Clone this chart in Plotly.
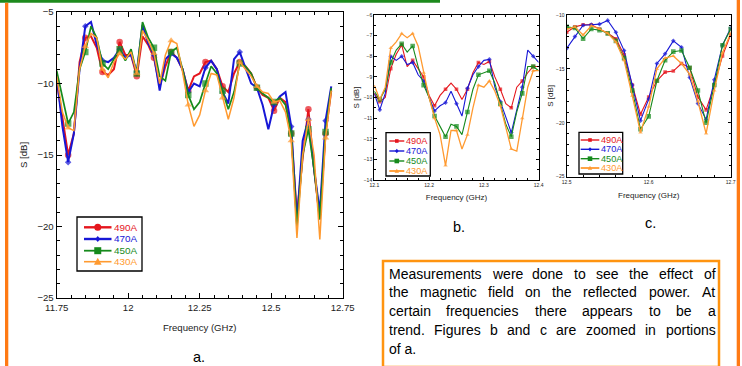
import plotly.graph_objects as go

W, H = 742, 366
FONT = "Liberation Sans, Arial, sans-serif"


def fx(p):
    return p / W


def fy(p):
    return 1 - p / H


# ---------------- data ----------------
series_names = ["490A", "470A", "450A", "430A"]
series_colors = ["#e5161d", "#1717d6", "#168a1c", "#ff9a30"]

# chart a (full band)
freq_a = [11.75, 11.77, 11.79, 11.81, 11.83, 11.85, 11.87, 11.89, 11.91, 11.93,
          11.95, 11.97, 11.99, 12.01, 12.03, 12.05, 12.07, 12.09, 12.11, 12.13,
          12.15, 12.17, 12.19, 12.21, 12.23, 12.25, 12.27, 12.29, 12.31, 12.33,
          12.35, 12.37, 12.39, 12.41, 12.43, 12.45, 12.47, 12.49, 12.51, 12.53,
          12.55, 12.57, 12.59, 12.61, 12.63, 12.65, 12.67, 12.69, 12.71]
s490_a = [-9.8, -12.5, -15.0, -13.5, -8.5, -6.8, -6.7, -7.5, -9.2, -9.4,
          -9.0, -7.1, -8.0, -8.0, -9.5, -6.7, -7.3, -8.2, -10.2, -8.8,
          -7.8, -8.2, -9.0, -10.5, -9.5, -9.3, -8.5, -8.4, -9.0, -10.2,
          -10.6, -9.3, -8.5, -8.8, -9.3, -10.3, -10.8, -11.0, -11.9, -11.0,
          -11.3, -13.5, -19.2, -15.2, -11.8, -16.0, -19.5, -13.5, -10.5]
s470_a = [-9.5, -13.0, -15.5, -13.5, -9.0, -6.0, -5.7, -7.3, -8.4, -8.5,
          -8.2, -7.6, -8.2, -8.0, -9.2, -5.9, -7.2, -8.0, -10.5, -8.3,
          -7.9, -8.2, -9.0, -10.6, -10.0, -10.2, -8.9, -8.4, -9.0, -10.6,
          -11.4, -8.3, -7.8, -8.9, -10.0, -10.3, -11.5, -13.2, -11.5, -10.9,
          -10.6, -13.0, -19.7, -14.0, -12.5, -16.0, -19.0, -12.6, -10.2]
s450_a = [-9.1, -11.0, -12.8, -12.0, -9.0, -7.8, -6.0, -6.8, -8.6, -9.0,
          -8.3, -7.6, -8.4, -7.6, -9.3, -5.7, -6.8, -7.5, -9.5, -9.8,
          -7.8, -7.5, -9.0, -10.8, -11.8, -11.3, -10.0, -8.8, -9.3, -10.5,
          -11.8, -10.6, -8.6, -8.8, -9.3, -10.3, -10.7, -11.0, -11.3, -11.0,
          -11.5, -13.5, -20.0, -15.0, -13.2, -16.0, -19.5, -13.4, -10.3]
s430_a = [-9.5, -12.0, -13.1, -13.3, -9.0, -7.4, -6.5, -6.8, -9.0, -9.6,
          -8.5, -7.9, -8.3, -7.8, -9.3, -6.3, -7.0, -7.9, -10.0, -8.0,
          -7.0, -7.2, -9.2, -11.5, -13.0, -12.2, -10.5, -9.3, -9.4, -11.0,
          -12.5, -11.0, -8.5, -9.0, -9.5, -10.2, -10.6, -10.7, -11.3, -11.2,
          -12.0, -14.0, -20.8, -15.0, -12.5, -15.0, -20.9, -13.8, -10.5]

# chart b (12.1 - 12.4 GHz)
freq_b = [12.10, 12.11, 12.12, 12.13, 12.14, 12.15, 12.16, 12.17, 12.18, 12.19,
          12.20, 12.21, 12.22, 12.23, 12.24, 12.25, 12.26, 12.27, 12.28, 12.29,
          12.30, 12.31, 12.32, 12.33, 12.34, 12.35, 12.36, 12.37, 12.38, 12.39,
          12.40]
s490_b = [-9.8, -10.2, -10.0, -8.6, -7.9, -7.45, -8.5, -8.2, -8.6, -9.0,
          -9.9, -10.4, -9.9, -9.6, -9.3, -9.6, -10.1, -9.6, -8.8, -8.3,
          -8.4, -8.25, -9.0, -9.6, -10.3, -10.5, -9.5, -9.2, -8.8, -8.5,
          -8.5]
s470_b = [-9.8, -10.6, -9.8, -8.0, -8.2, -8.0, -8.4, -8.3, -8.9, -9.2,
          -10.0, -10.65, -10.4, -10.25, -9.7, -10.3, -10.9, -9.55, -8.9, -8.5,
          -8.2, -8.15, -9.5, -10.2, -11.0, -11.7, -10.6, -9.5, -7.7, -8.0,
          -8.3]
s450_b = [-9.7, -10.1, -9.6, -8.3, -7.7, -7.4, -7.8, -7.5, -8.5, -9.4,
          -10.0, -10.9, -11.4, -11.9, -11.3, -11.4, -11.8, -10.7, -9.6, -8.9,
          -8.8, -8.7, -9.3, -10.3, -11.3, -11.9, -10.7, -9.8, -8.5, -8.5,
          -8.7]
s430_b = [-9.4, -10.1, -9.5, -7.6, -7.3, -6.9, -7.1, -6.9, -7.5, -8.8,
          -10.0, -11.0, -11.8, -13.3, -11.6, -11.6, -12.5, -11.8, -10.5, -9.4,
          -9.5, -9.2, -9.7, -10.4, -11.5, -12.5, -12.6, -11.0, -9.5, -8.7,
          -8.7]

# chart c (12.5 - 12.7 GHz)
freq_c = [12.50, 12.51, 12.52, 12.53, 12.54, 12.55, 12.56, 12.57, 12.58, 12.59,
          12.60, 12.61, 12.62, 12.63, 12.64, 12.65, 12.66, 12.67, 12.68, 12.69,
          12.70]
s490_c = [-11.6, -11.1, -10.9, -10.9, -11.3, -11.7, -12.2, -13.7, -16.5, -19.2,
          -17.6, -16.1, -15.3, -15.2, -14.5, -14.9, -17.6, -18.8, -16.5, -13.8,
          -11.8]
s470_c = [-13.1, -12.0, -10.95, -10.9, -10.85, -10.5, -11.6, -13.3, -16.5, -19.8,
          -17.8, -14.5, -13.6, -12.4, -13.0, -15.8, -18.2, -19.7, -16.0, -12.8,
          -11.2]
s450_c = [-11.1, -11.2, -12.2, -11.3, -11.4, -11.7, -12.4, -14.0, -17.0, -20.6,
          -19.4, -16.1, -14.2, -13.4, -13.3, -14.9, -17.0, -20.0, -16.5, -12.8,
          -11.3]
s430_c = [-11.3, -11.1, -11.85, -11.0, -11.3, -11.7, -12.5, -14.2, -17.5, -20.9,
          -18.5, -15.0, -14.0, -13.8, -14.5, -15.5, -18.0, -21.0, -17.0, -13.5,
          -11.7]

xticks_a = [11.75, 12.0, 12.25, 12.5, 12.75]
xticklabels_a = ["11.75", "12", "12.25", "12.5", "12.75"]
xticks_b = [12.1, 12.2, 12.3, 12.4]
xticklabels_b = ["12.1", "12.2", "12.3", "12.4"]
xticks_c = [12.5, 12.6, 12.7]
xticklabels_c = ["12.5", "12.6", "12.7"]

# ---------------- styles ----------------
sym_a = ["circle", "diamond", "square", "triangle-up"]
msz_a = [6.5, 5, 6.5, 6.5]
lw_a = [2.0, 2.0, 1.7, 1.5]
sym_bc = ["square", "diamond", "square", "triangle-up"]
msz_bc = [3.6, 3.6, 4.6, 4.0]
lw_bc = [1.1, 1.1, 1.1, 1.3]

fig = go.Figure()

sets = [
    (freq_a, [s490_a, s470_a, s450_a, s430_a], "x", "y", sym_a, msz_a, lw_a, 3, 2),
    (freq_b, [s490_b, s470_b, s450_b, s430_b], "x2", "y2", sym_bc, msz_bc, lw_bc, 2, 1),
    (freq_c, [s490_c, s470_c, s450_c, s430_c], "x3", "y3", sym_bc, msz_bc, lw_bc, 1, 0),
]
for freq, ys_list, xa, ya, syms, mszs, lws, every, offs in sets:
    for name, ys, col, sym, ms, lw in zip(series_names, ys_list, series_colors, syms, mszs, lws):
        sizes = [ms if (i % every) == offs else 0 for i in range(len(freq))]
        fig.add_trace(go.Scatter(
            x=freq, y=ys, mode="lines+markers", name=name, showlegend=False,
            xaxis=xa, yaxis=ya,
            line=dict(color=col, width=lw),
            marker=dict(symbol=sym, size=sizes, color=col, line=dict(width=0)),
        ))


def axis(domain, rng, fs, title, tfs, standoff, minor_dtick, minor_len, major_len, **kw):
    d = dict(domain=domain, range=rng, showline=True, linecolor="black", linewidth=1.2,
             mirror="allticks", ticks="inside", ticklen=major_len, tickcolor="black",
             tickwidth=1, showgrid=False, zeroline=False, automargin=False,
             tickfont=dict(family=FONT, size=fs, color="#222"),
             title=dict(text=title, font=dict(family=FONT, size=tfs, color="#222"),
                        standoff=standoff),
             minor=dict(ticks="inside", ticklen=minor_len, dtick=minor_dtick,
                        tickcolor="black", tickwidth=1, showgrid=False))
    d.update(kw)
    return d


fig.update_layout(
    width=W, height=H, margin=dict(l=0, r=0, t=0, b=0),
    paper_bgcolor="white", plot_bgcolor="white", showlegend=False,
    xaxis=axis([fx(56.7), fx(342.7)], [11.75, 12.75], 9.6, "Frequency (GHz)", 9.6, 12,
               0.05, 3, 5, tickvals=xticks_a, ticktext=xticklabels_a, anchor="y"),
    yaxis=axis([fy(298), fy(12)], [-25, -5], 9.6, "S [dB]", 9.6, 8,
               1, 3, 5, dtick=5, tick0=-25, anchor="x"),
    xaxis2=axis([fx(374.3), fx(538.7)], [12.1, 12.4], 5, "Frequency (GHz)", 8, 7,
                0.02, 2, 3, tickvals=xticks_b, ticktext=xticklabels_b, anchor="y2"),
    yaxis2=axis([fy(180), fy(15)], [-14, -6], 5, "S [dB]", 8, 2,
                0.5, 2, 3, dtick=1, tick0=-14, anchor="x2"),
    xaxis3=axis([fx(566.7), fx(730.7)], [12.5, 12.7], 5, "Frequency (GHz)", 8, 8,
                0.02, 2, 3, tickvals=xticks_c, ticktext=xticklabels_c, anchor="y3"),
    yaxis3=axis([fy(176.7), fy(15)], [-25, -10], 5, "S [dB]", 8, 1,
                1, 2, 3, dtick=5, tick0=-25, anchor="x3"),
)

shapes = []
annotations = []

# ---------------- frame decorations ----------------
shapes.append(dict(type="rect", xref="paper", yref="paper", x0=fx(0), x1=fx(440),
                   y0=fy(2.8), y1=fy(0), line=dict(width=0), fillcolor="#1d8a1d", layer="above"))
shapes.append(dict(type="rect", xref="paper", yref="paper", x0=fx(5), x1=fx(8.3),
                   y0=fy(366), y1=fy(2.8), line=dict(width=0), fillcolor="#ff7a14", layer="above"))
shapes.append(dict(type="rect", xref="paper", yref="paper", x0=fx(736.7), x1=fx(740),
                   y0=fy(366), y1=fy(0), line=dict(width=0), fillcolor="#ff7a14", layer="above"))
# text box
shapes.append(dict(type="rect", xref="paper", yref="paper", x0=fx(383), x1=fx(719),
                   y0=fy(367), y1=fy(261), line=dict(width=2.5, color="#ff9410"),
                   fillcolor="white", layer="above"))


# ---------------- legends ----------------
def marker_shape(sym, cx, cy, size, col):
    r = size / 2
    if sym == "circle":
        return dict(type="circle", xref="paper", yref="paper", x0=fx(cx - r), x1=fx(cx + r),
                    y0=fy(cy + r), y1=fy(cy - r), fillcolor=col, line=dict(width=0), layer="above")
    if sym == "square":
        return dict(type="rect", xref="paper", yref="paper", x0=fx(cx - r), x1=fx(cx + r),
                    y0=fy(cy + r), y1=fy(cy - r), fillcolor=col, line=dict(width=0), layer="above")
    if sym == "diamond":
        pts = [(cx, cy - r * 1.2), (cx + r, cy), (cx, cy + r * 1.2), (cx - r, cy)]
    else:
        pts = [(cx - r * 1.1, cy + r * 0.9), (cx + r * 1.1, cy + r * 0.9), (cx, cy - r * 1.1)]
    path = "M " + " L ".join(f"{fx(px)},{fy(py)}" for px, py in pts) + " Z"
    return dict(type="path", xref="paper", yref="paper", path=path, fillcolor=col,
                line=dict(width=0), layer="above")


def draw_legend(box, lx0, lx1, tx, rows, fs, syms, mszs, lws):
    x0, y0, x1, y1 = box
    shapes.append(dict(type="rect", xref="paper", yref="paper", x0=fx(x0), x1=fx(x1),
                       y0=fy(y1), y1=fy(y0), line=dict(color="black", width=1.3),
                       fillcolor="white", layer="above"))
    for name, col, ry, sym, ms, lw in zip(series_names, series_colors, rows, syms, mszs, lws):
        shapes.append(dict(type="line", xref="paper", yref="paper", x0=fx(lx0), x1=fx(lx1),
                           y0=fy(ry), y1=fy(ry), line=dict(color=col, width=lw + 0.6), layer="above"))
        shapes.append(marker_shape(sym, (lx0 + lx1) / 2, ry, ms, col))
        annotations.append(dict(xref="paper", yref="paper", x=fx(tx - 1), y=fy(ry), text=name,
                                showarrow=False, xanchor="left", yanchor="middle",
                                font=dict(family=FONT, size=fs, color=col)))


draw_legend((77, 217, 142, 271), 84, 111.5, 113, [227.3, 239, 250.7, 261.7], 9.9,
            sym_a, [7, 5, 7, 7], [1.8, 1.8, 1.2, 1.0])
draw_legend((386, 132.7, 430.3, 176), 389.3, 404.3, 405.3, [141, 151, 161, 171], 9.2,
            sym_bc, [3.6, 3.6, 4.6, 4.0], [0.8, 0.8, 0.8, 1.2])
draw_legend((579, 132.3, 622.7, 174), 580.7, 599.3, 600, [140, 149.3, 158.7, 168], 9.2,
            sym_bc, [3.6, 3.6, 4.6, 4.0], [0.8, 0.8, 0.8, 1.2])

# ---------------- panel letters ----------------
for lbl, px, py in [("a.", 199, 356.5), ("b.", 459.3, 226.7), ("c.", 650.3, 222.7)]:
    annotations.append(dict(xref="paper", yref="paper", x=fx(px), y=fy(py), text=lbl,
                            showarrow=False, xanchor="center", yanchor="middle",
                            font=dict(family=FONT, size=14.5, color="black")))

# ---------------- justified description text ----------------
CW = {" ": 278, ".": 278, "a": 556, "b": 556, "c": 500, "d": 556, "e": 556, "f": 278,
      "g": 556, "h": 556, "i": 222, "j": 222, "k": 500, "l": 222, "m": 833, "n": 556,
      "o": 556, "p": 556, "q": 556, "r": 333, "s": 500, "t": 278, "u": 556, "v": 500,
      "w": 722, "x": 500, "y": 500, "z": 500, "A": 667, "F": 611, "M": 833}
desc_lines = [
    "Measurements were done to see the effect of",
    "the magnetic field on the reflected power. At",
    "certain frequencies there appears to be a",
    "trend. Figures b and c are zoomed in portions",
    "of a.",
]
TFS = 14
left_px, right_px = 387.7, 714.3
baselines = [278.3, 297.0, 315.8, 334.5, 353.3]


def tw(s):
    return sum(CW.get(ch, 556) for ch in s) * TFS / 1000.0


for li, (line, base) in enumerate(zip(desc_lines, baselines)):
    cy = base - 0.33 * TFS
    words = line.split(" ")
    if li < len(desc_lines) - 1:
        total = sum(tw(w) for w in words)
        gap = (right_px - left_px - total) / (len(words) - 1)
        xpos = left_px
        for w in words:
            annotations.append(dict(xref="paper", yref="paper", x=fx(xpos - 1), y=fy(cy), text=w,
                                    showarrow=False, xanchor="left", yanchor="middle",
                                    font=dict(family=FONT, size=TFS, color="black")))
            xpos += tw(w) + gap
    else:
        annotations.append(dict(xref="paper", yref="paper", x=fx(left_px - 1), y=fy(cy), text=line,
                                showarrow=False, xanchor="left", yanchor="middle",
                                font=dict(family=FONT, size=TFS, color="black")))

fig.update_layout(shapes=shapes, annotations=annotations)
fig.write_html(
    "out.html",
    config={"displayModeBar": False},
    post_script="document.documentElement.style.margin='0';document.body.style.margin='0';"
                "document.body.style.padding='0';document.body.style.overflow='hidden';",
)
